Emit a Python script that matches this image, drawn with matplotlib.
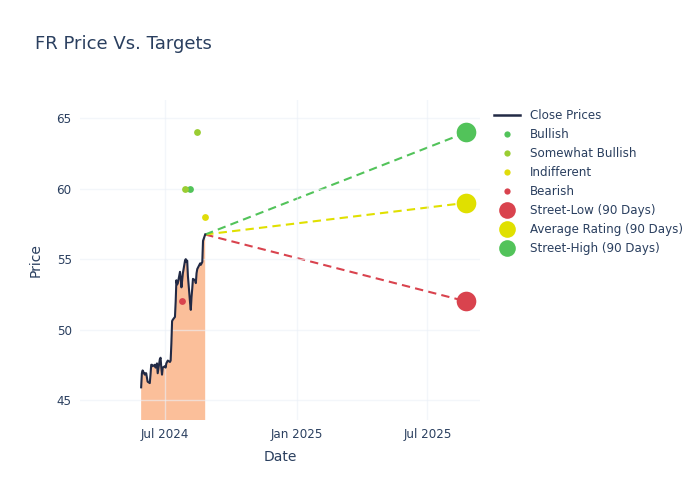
import matplotlib
matplotlib.use("Agg")
import matplotlib.pyplot as plt
import matplotlib.dates as mdates
from matplotlib.lines import Line2D
import pandas as pd

plt.rcParams['font.family'] = ['DejaVu Sans']

price_dates = ["2024-05-29","2024-05-30","2024-05-31","2024-06-03","2024-06-04","2024-06-05",
    "2024-06-06","2024-06-07","2024-06-10","2024-06-11","2024-06-12","2024-06-13","2024-06-14",
    "2024-06-17","2024-06-18","2024-06-20","2024-06-21","2024-06-24","2024-06-25","2024-06-26",
    "2024-06-27","2024-06-28","2024-07-01","2024-07-02","2024-07-03","2024-07-05","2024-07-08",
    "2024-07-09","2024-07-10","2024-07-11","2024-07-12","2024-07-15","2024-07-16","2024-07-17",
    "2024-07-18","2024-07-19","2024-07-22","2024-07-23","2024-07-24","2024-07-25","2024-07-26",
    "2024-07-29","2024-07-30","2024-07-31","2024-08-01","2024-08-02","2024-08-05","2024-08-06",
    "2024-08-07","2024-08-08","2024-08-09","2024-08-12","2024-08-13","2024-08-14","2024-08-15",
    "2024-08-16","2024-08-19","2024-08-20","2024-08-21","2024-08-22","2024-08-23","2024-08-26"]
close_prices = [45.9,46.9,47.1,46.8,46.9,46.9,46.6,46.3,46.2,46.8,47.5,47.5,47.4,
    47.5,47.3,47.6,46.9,47.9,48.0,47.3,46.8,47.3,47.4,47.3,47.6,47.8,47.7,
    47.8,49.0,50.6,50.7,50.9,52.0,53.5,53.2,53.3,54.1,53.6,53.0,53.5,54.0,
    54.9,55.0,54.8,54.9,53.8,51.9,51.4,52.3,52.9,53.6,53.5,53.3,54.0,54.3,
    54.4,54.7,54.6,54.7,54.8,56.3,56.75]

rating_categories = ["Bullish", "Somewhat Bullish", "Indifferent", "Bearish"]
rating_dates = {
    "Bullish": ["2024-08-05"],
    "Somewhat Bullish": ["2024-07-29", "2024-08-14"],
    "Indifferent": ["2024-08-26"],
    "Bearish": ["2024-07-25"],
}
rating_values = {
    "Bullish": [60],
    "Somewhat Bullish": [60, 64],
    "Indifferent": [58],
    "Bearish": [52],
}
target_labels = ["Street-Low (90 Days)", "Average Rating (90 Days)", "Street-High (90 Days)"]
target_values = [52, 59, 64]
target_date = "2025-08-24"

rating_colors = {"Bullish": "#52c35a", "Somewhat Bullish": "#9acd32",
                 "Indifferent": "#e0dc0a", "Bearish": "#d9434e"}
target_colors = ["#d9434e", "#e0e000", "#52c35a"]

text_color = "#2a3f5f"
grid_color = "#ebf0f8"

fig = plt.figure(figsize=(7, 5), dpi=100)
ax = fig.add_axes([80/700, 1-420/500, 400/700, 320/500])

pd_dates = pd.to_datetime(price_dates)
ax.fill_between(pd_dates, close_prices, 0, color="#fbbf9a", lw=0, zorder=1)
ax.plot(pd_dates, close_prices, color="#222a45", lw=1.5, zorder=3)

last_d = pd_dates[-1]
last_p = close_prices[-1]
td = pd.to_datetime(target_date)
for val, col in zip(target_values, target_colors):
    ax.plot([last_d, td], [last_p, val], ls=(0, (4, 2.5)), color=col, lw=1.5, zorder=2)

for cat in rating_categories:
    ax.scatter(pd.to_datetime(rating_dates[cat]), rating_values[cat], s=24,
               color=rating_colors[cat], zorder=4, lw=0)

for val, col in zip(target_values, target_colors):
    ax.scatter([td], [val], s=200, color=col, zorder=5, lw=0)

ax.set_xlim(pd.Timestamp("2024-03-05"), pd.Timestamp("2025-09-12"))
ax.set_ylim(43.58, 66.3)
ax.set_xticks(pd.to_datetime(["2024-07-01", "2025-01-01", "2025-07-01"]))
ax.xaxis.set_major_formatter(mdates.DateFormatter("%b %Y"))
ax.set_yticks([45, 50, 55, 60, 65])
ax.grid(True, color=grid_color, lw=1)
ax.set_axisbelow(False)
for gl in ax.get_xgridlines() + ax.get_ygridlines():
    gl.set_zorder(1.5)
    gl.set_alpha(0.6)
for s in ax.spines.values():
    s.set_visible(False)
ax.tick_params(length=0, labelsize=8.6, colors=text_color, pad=6)
ax.set_xlabel("Date", fontsize=10, color=text_color, labelpad=6)
ax.set_ylabel("Price", fontsize=10, color=text_color, labelpad=10)

fig.text(35/700, 1-44/500, "FR Price Vs. Targets", fontsize=13, color=text_color, va="center", ha="left")

handles = [Line2D([], [], color="#222a45", lw=1.8)]
for cat in rating_categories:
    handles.append(Line2D([], [], ls="", marker="o", ms=4.5, color=rating_colors[cat], mec="none"))
for col in target_colors:
    handles.append(Line2D([], [], ls="", marker="o", ms=12, color=col, mec="none"))
labels = ["Close Prices"] + rating_categories + target_labels
leg = fig.legend(handles, labels, loc="upper left", bbox_to_anchor=(494/700, 1-109/500),
                 frameon=False, fontsize=8.6, labelcolor=text_color, handlelength=2.2,
                 handletextpad=0.8, labelspacing=0.5, borderaxespad=0, borderpad=0)

fig.savefig("out.png", dpi=100)
